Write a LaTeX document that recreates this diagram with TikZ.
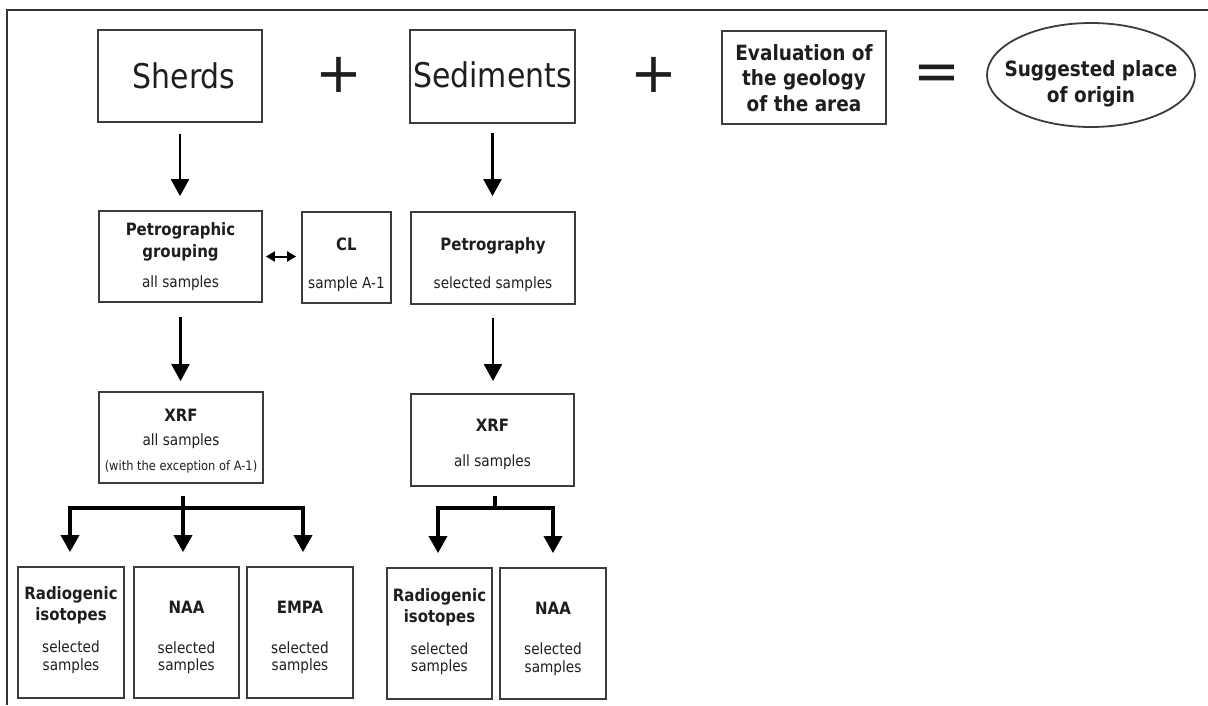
\documentclass[tikz,border=0pt]{standalone}
\usepackage{fontspec}
\setmainfont{DejaVu Sans}[FakeStretch=0.88]
\newfontfamily\opfont{DejaVu Sans}
\usetikzlibrary{arrows.meta,shapes.geometric}
\newcommand\TT[1]{\rule{0pt}{#1pt}}
\newcommand\BB[1]{\rule[-#1pt]{0pt}{#1pt}}
\newcommand\fA{\mdseries\fontsize{34}{40}\selectfont}
\newcommand\fE{\bfseries\fontsize{21}{25.5}\selectfont}
\newcommand\fT{\bfseries\fontsize{17}{22}\selectfont}
\newcommand\fS{\mdseries\fontsize{15.5}{18}\selectfont}
\newcommand\fX{\mdseries\fontsize{13}{16}\selectfont}
\definecolor{ink}{HTML}{1E1E1E}
\definecolor{edge}{HTML}{3C3C3C}
\tikzset{
  box/.style={draw=edge, line width=1.8pt, inner sep=0pt, align=center, text=ink},
  ell/.style={ellipse, draw=edge, line width=1.8pt, inner ysep=0pt, align=center, text=ink},
  op/.style={inner sep=0pt, text=ink, font=\opfont\fontsize{56}{60}\selectfont},
  arr/.style={line width=2.2pt, -{Triangle[width=18pt,length=17pt]}},
  darr/.style={line width=2pt, {Triangle[width=10pt,length=9pt]}-{Triangle[width=10pt,length=9pt]}},
  br/.style={line width=3.5pt},
  barr/.style={line width=3.5pt, -{Triangle[width=18pt,length=17pt]}},
  frame/.style={line width=2pt, draw=black!80}
}
\begin{document}
\begin{tikzpicture}[x=1pt,y=-1pt]
\useasboundingbox (0,0) rectangle (1208,705);
\draw[frame] (1208,10) -- (7,10) -- (7,705);

% top row
\node[box, minimum width=164pt, minimum height=92pt, font=\fA] (sherds) at (180,76) {\hspace*{8pt}\TT{58}Sherds\BB{34}};
\node[op] (plus1) at (338.5,74.5) {+};
\node[box, minimum width=165pt, minimum height=93pt, font=\fA] (sed) at (492.5,76.5) {\TT{57}Sediments\BB{36}};
\node[op] (plus2) at (653.5,74.5) {+};
\node[box, minimum width=164pt, minimum height=93pt, font=\fE] (eval) at (804,77.5) {\TT{29}Evaluation of\\the geology\\of the area\BB{13}};
\node[op] (eq) at (936.5,77.5) {=};
\node[ell, minimum width=208pt, minimum height=104pt, inner xsep=-25pt, font=\fE] (orig) at (1091,75) {\TT{34}Suggested place\\[0.5pt]of origin\BB{6}};

% second row
\node[box, minimum width=163pt, minimum height=91pt, font=\fT] (petro) at (180.5,256.5) {\TT{24}Petrographic\\grouping\\[8pt]{\fS all samples\BB{15}}};
\node[box, minimum width=89pt, minimum height=91pt, font=\fT] (cl) at (346.5,257.5) {\TT{38.7}CL\\[15.3pt]{\fS sample A-1\BB{15}}};
\node[box, minimum width=164pt, minimum height=92pt, font=\fT] (pgy) at (493,258) {\TT{38}Petrography\\[16pt]{\fS selected samples\BB{16}}};

% third row
\node[box, minimum width=164pt, minimum height=91pt, font=\fT] (xrfL) at (181,437.5) {\TT{29.7}XRF\\[2pt]{\fS all samples}\\[2.3pt]{\fX (with the exception of A-1)\BB{13}}};
\node[box, minimum width=163pt, minimum height=92pt, font=\fT] (xrfR) at (492.5,440) {\TT{37}XRF\\[13.7pt]{\fS all samples\BB{19.3}}};

% bottom row
\node[box, minimum width=106pt, minimum height=131pt, font=\fT] (radL) at (71,632.5) {\TT{32.3}Radiogenic\\[-0.5pt]isotopes\\[9.6pt]{\fS selected}\\[-4.4pt]{\fS samples\BB{28}}};
\node[box, minimum width=105pt, minimum height=131pt, font=\fT] (naaL) at (186.5,632.5) {\TT{46.3}NAA\\[18pt]{\fS selected}\\[-4.6pt]{\fS samples\BB{27.3}}};
\node[box, minimum width=106pt, minimum height=131pt, font=\fT] (empa) at (300,632.5) {\TT{46.3}EMPA\\[18pt]{\fS selected}\\[-4.6pt]{\fS samples\BB{27.3}}};
\node[box, minimum width=105pt, minimum height=131pt, font=\fT] (radR) at (439.5,633.5) {\TT{33}Radiogenic\\[-0.7pt]isotopes\\[10pt]{\fS selected}\\[-5.3pt]{\fS samples\BB{28}}};
\node[box, minimum width=106pt, minimum height=131pt, font=\fT] (naaR) at (553,633.5) {\TT{46}NAA\\[18.7pt]{\fS selected}\\[-4.7pt]{\fS samples\BB{27}}};

% vertical arrows
\draw[arr] ([yshift=-11pt]sherds.south) -- ([yshift=14pt]sherds.south |- petro.north);
\draw[arr] ([yshift=-9.5pt]sed.south) -- ([yshift=15pt]sed.south |- pgy.north);
\draw[arr] ([yshift=-14pt]petro.south) -- ([yshift=10pt]petro.south |- xrfL.north);
\draw[arr] ([yshift=-13pt]pgy.south) -- ([yshift=12pt]pgy.south |- xrfR.north);
\draw[darr] ([xshift=3pt]petro.east) -- ([xshift=-5pt]petro.east -| cl.west);

% left branching
\coordinate (jl) at ([xshift=2pt,yshift=-24pt]xrfL.south);
\coordinate (rtL) at ([xshift=-1pt,yshift=14pt]radL.north);
\coordinate (ntL) at ([yshift=14pt]naaL.north);
\coordinate (etL) at ([xshift=3pt,yshift=14pt]empa.north);
\draw[br] ([xshift=2pt,yshift=-12pt]xrfL.south) -- (jl);
\draw[barr] (jl) -| (rtL);
\draw[barr] (jl) -- (jl |- ntL);
\draw[barr] (jl) -| (etL);

% right branching
\coordinate (jr) at ([xshift=2.5pt,yshift=-21pt]xrfR.south);
\coordinate (rtR) at ([xshift=-1.5pt,yshift=14pt]radR.north);
\coordinate (ntR) at ([yshift=14pt]naaR.north);
\draw[br] ([xshift=2.5pt,yshift=-9pt]xrfR.south) -- (jr);
\draw[barr] (jr) -| (rtR);
\draw[barr] (jr) -| (ntR);
\end{tikzpicture}
\end{document}
